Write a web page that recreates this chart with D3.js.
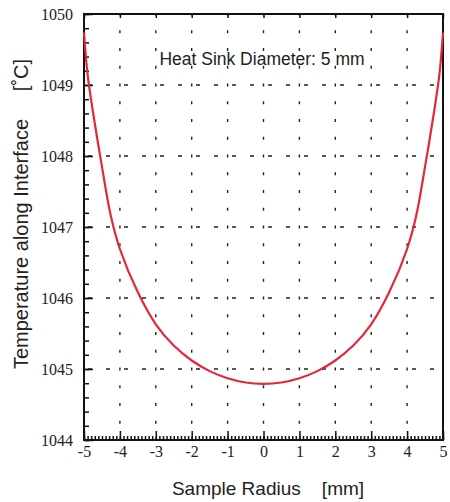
<!DOCTYPE html>
<html>
<head>
  <meta charset="utf-8">
  <title>Heat Sink Temperature</title>
  <script src="https://cdnjs.cloudflare.com/ajax/libs/d3/7.8.5/d3.min.js"></script>
  <style>
    body { margin: 0; background: #fff; }
    .tick text { font-family: "Liberation Serif", serif; font-size: 16px; fill: #222; }
    .title { font-family: "Liberation Sans", Arial, sans-serif; fill: #222; }
    .grid line { stroke: #222; stroke-width: 1.4; }
  </style>
</head>
<body>
<svg id="chart" width="450" height="502"></svg>
<script>
// sample radius in mm
var radius = [-5, -4.9, -4.75, -4.5, -4.25, -4, -3.5, -3, -2.5, -2, -1.5, -1, -0.5, 0,
              0.5, 1, 1.5, 2, 2.5, 3, 3.5, 4, 4.25, 4.5, 4.75, 4.9, 5];
// temperature along the interface, deg C
var temperature = [1049.74, 1049.15, 1048.62, 1047.85, 1047.15, 1046.69, 1046.08, 1045.63, 1045.33, 1045.12, 1044.97, 1044.87, 1044.81, 1044.79,
                   1044.81, 1044.87, 1044.97, 1045.12, 1045.33, 1045.63, 1046.08, 1046.69, 1047.15, 1047.85, 1048.62, 1049.15, 1049.74];
var xTicks = [-5, -4, -3, -2, -1, 0, 1, 2, 3, 4, 5];
var yTicks = [1044, 1045, 1046, 1047, 1048, 1049, 1050];

var svg = d3.select("#chart");
var pLeft = 84, pRight = 443, pTop = 14, pBottom = 440;

var x = d3.scaleLinear().domain([-5, 5]).range([pLeft, pRight]);
var y = d3.scaleLinear().domain([1044, 1050]).range([pBottom, pTop]);

// dotted grid
var grid = svg.append("g").attr("class", "grid");
grid.selectAll("line.v")
  .data(xTicks.slice(1, -1))
  .enter().append("line")
  .attr("class", "v")
  .attr("x1", d => x(d)).attr("x2", d => x(d))
  .attr("y1", pBottom).attr("y2", pTop)
  .attr("stroke-dasharray", "3,14.75")
  .attr("stroke-dashoffset", 1.5);
grid.selectAll("line.h")
  .data(yTicks.slice(1, -1))
  .enter().append("line")
  .attr("class", "h")
  .attr("x1", pLeft).attr("x2", pRight)
  .attr("y1", d => y(d)).attr("y2", d => y(d))
  .attr("stroke-dasharray", "4,14")
  .attr("stroke-dashoffset", -4);

// minor ticks (inward)
var axes = svg.append("g");
axes.append("g")
  .attr("transform", "translate(" + pLeft + ",0)")
  .call(d3.axisRight(y).ticks(30).tickSize(5).tickFormat(""))
  .call(g => g.select(".domain").remove());
axes.append("g")
  .attr("transform", "translate(0," + pBottom + ")")
  .call(d3.axisTop(x).ticks(100).tickSize(4).tickFormat(""))
  .call(g => g.select(".domain").remove());
axes.append("g")
  .attr("transform", "translate(0," + pBottom + ")")
  .call(d3.axisTop(x).tickValues(xTicks).tickSize(9).tickFormat(""))
  .call(g => g.select(".domain").remove());
axes.append("g")
  .attr("transform", "translate(" + pLeft + ",0)")
  .call(d3.axisRight(y).tickValues(yTicks).tickSize(9).tickFormat(""))
  .call(g => g.select(".domain").remove());
axes.append("g")
  .attr("transform", "translate(0," + pTop + ")")
  .call(d3.axisBottom(x).tickValues(xTicks).tickSize(4).tickFormat(""))
  .call(g => g.select(".domain").remove());
axes.selectAll("line").attr("stroke", "#111").attr("stroke-width", 1.5);

// tick labels
svg.append("g")
  .attr("transform", "translate(" + (pLeft - 11) + ",0)")
  .call(d3.axisLeft(y).tickValues(yTicks).tickSize(0).tickPadding(0).tickFormat(d3.format("d")))
  .call(g => g.select(".domain").remove());
svg.append("g")
  .attr("transform", "translate(0," + (pBottom + 6) + ")")
  .call(d3.axisBottom(x).tickValues(xTicks).tickSize(0).tickPadding(0).tickFormat(d => d))
  .call(g => g.select(".domain").remove());

// frame
svg.append("rect")
  .attr("x", pLeft).attr("y", pTop)
  .attr("width", pRight - pLeft).attr("height", pBottom - pTop)
  .attr("fill", "none").attr("stroke", "#111").attr("stroke-width", 2);

// curve
var line = d3.line()
  .x((d, i) => x(radius[i]))
  .y(d => y(d))
  .curve(d3.curveCatmullRom);
svg.append("path")
  .datum(temperature)
  .attr("d", line)
  .attr("fill", "none")
  .attr("stroke", "#e2283a")
  .attr("stroke-width", 2.2);

// labels
svg.append("text").attr("class", "title")
  .attr("x", 262).attr("y", 65)
  .attr("text-anchor", "middle").attr("font-size", 17.5)
  .text("Heat Sink Diameter: 5 mm");
svg.append("text").attr("class", "title")
  .attr("x", 268).attr("y", 495)
  .attr("text-anchor", "middle").attr("font-size", 19)
  .attr("xml:space", "preserve")
  .text("Sample Radius    [mm]");
svg.append("text").attr("class", "title")
  .attr("transform", "translate(28,214) rotate(-90)")
  .attr("text-anchor", "middle").attr("font-size", 20)
  .attr("xml:space", "preserve")
  .text("Temperature along Interface     [\u02daC]");
</script>
</body>
</html>
